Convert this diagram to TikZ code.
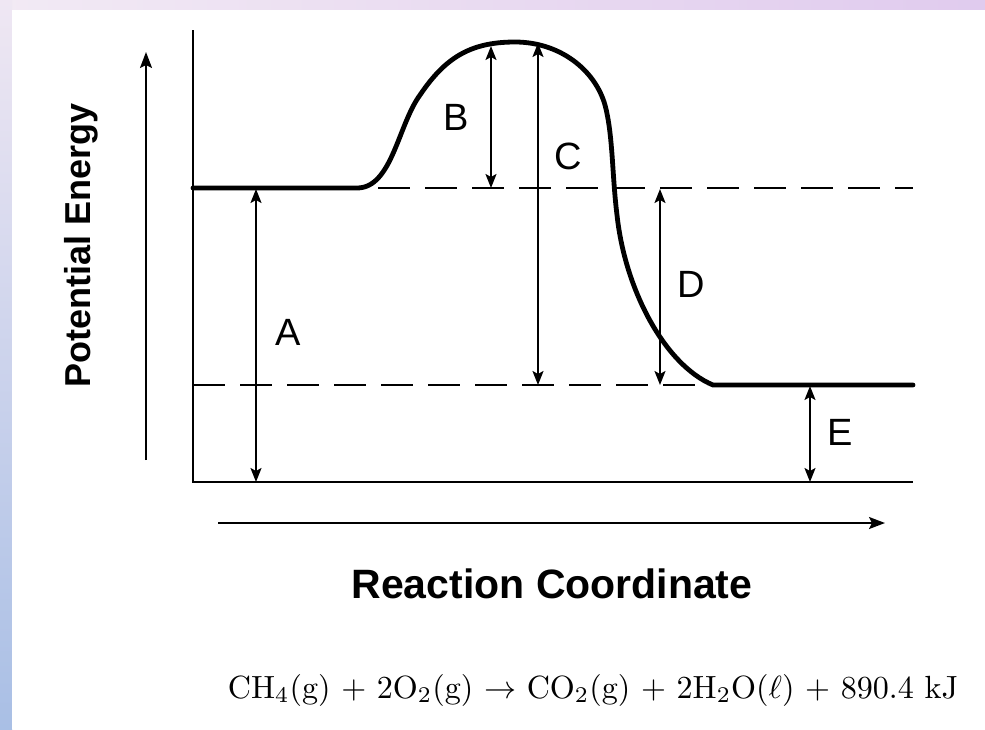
\documentclass[tikz,border=0pt]{standalone}
\usepackage{fontspec}
\usepackage{graphicx}
\newfontfamily\arialfont{Liberation Sans}
\usetikzlibrary{arrows.meta,positioning}
\definecolor{stripL}{HTML}{F2EAF4}
\definecolor{stripR}{HTML}{E0CBEE}
\definecolor{sideT}{HTML}{EFE7F3}
\definecolor{sideB}{HTML}{A9BFE5}

\begin{document}
\begin{tikzpicture}[
  x=0.5pt,y=-0.5pt,
  axis/.style={line width=1.2pt},
  level/.style={line width=0.9pt,dash pattern=on 16pt off 7.5pt},
  curve/.style={line width=2.4pt,line cap=round},
  gap/.style={line width=1pt,
              {Stealth[length=7pt,width=5.5pt,inset=1.5pt]}-{Stealth[length=7pt,width=5.5pt,inset=1.5pt]}},
  dir/.style={line width=1pt,-{Stealth[length=8pt,width=6pt,inset=1.5pt]}},
  tag/.style={font=\arialfont\fontsize{19}{19}\selectfont,inner sep=0pt},
  title/.style={font=\arialfont\bfseries\fontsize{20.5}{20.5}\selectfont,inner sep=0pt}]

% frame of the slide
\shade[left color=stripL,right color=stripR] (0,0) rectangle (985,10);
\shade[top color=sideT,bottom color=sideB] (0,0) rectangle (12,729);
\fill[white] (12,10) rectangle (985,729);
\useasboundingbox (0,0) rectangle (985,729);

\coordinate (o) at (193,482);
\coordinate (ytop) at (193,30);
\coordinate (xend) at (913,482);
\coordinate (r0) at (193,188);
\coordinate (r1) at (357,188);
\coordinate (ts) at (515,42);
\coordinate (p1) at (713,385);
\coordinate (p2) at (913,385);
\coordinate (hi0) at (378,188);
\coordinate (hi1) at (913,188);
\coordinate (lo0) at (193,385);

\draw[axis] (ytop) -- (o) -- (xend);
\draw[level] (hi0) -- (hi1);
\draw[level] (lo0) -- (p1);
\draw[curve] (r0) -- (r1)
  .. controls (392,188) and (398,125) .. (420,95)
  .. controls (445,58) and (470,42) .. (ts)
  .. controls (560,42) and (595,70) .. (605,105)
  .. controls (613,135) and (612,175) .. (617,215)
  .. controls (625,290) and (665,365) .. (p1) -- (p2);

% energy gaps
\coordinate (a0) at (256,482);
\coordinate (a1) at (256,189);
\coordinate (b0) at (491,188);
\coordinate (b1) at (491,46);
\coordinate (c0) at (538,385);
\coordinate (c1) at (538,43);
\coordinate (d0) at (660,385);
\coordinate (d1) at (660,189);
\coordinate (e0) at (810,482);
\coordinate (e1) at (810,386);
\draw[gap] (a0) -- (a1);
\draw[gap] (b0) -- (b1);
\draw[gap] (c0) -- (c1);
\draw[gap] (d0) -- (d1);
\draw[gap] (e0) -- (e1);

\node[tag] (la) at (288,332) {A};
\node[tag] (lb) at (456,117) {B};
\node[tag] (lc) at (568,156) {C};
\node[tag] (ld) at (691,284) {D};
\node[tag] (le) at (840,432) {E};

% axis captions
\coordinate (ey0) at (146,460);
\coordinate (ey1) at (146,52);
\coordinate (ex0) at (218,523);
\coordinate (ex1) at (885,523);
\draw[dir] (ey0) -- (ey1);
\draw[dir] (ex0) -- (ex1);
\node[title,rotate=90,font=\arialfont\bfseries\fontsize{18}{18}\selectfont] (ylab) at (81,245) {Potential Energy};
\node[title] (xlab) at (552,584) {Reaction Coordinate};

\node[inner sep=0pt] (eqn) at (593,690)
  {\resizebox{365pt}{!}{CH$_4$(g) + 2O$_2$(g) $\rightarrow$ CO$_2$(g) + 2H$_2$O($\ell$) + 890.4 kJ}};
\end{tikzpicture}
\end{document}
